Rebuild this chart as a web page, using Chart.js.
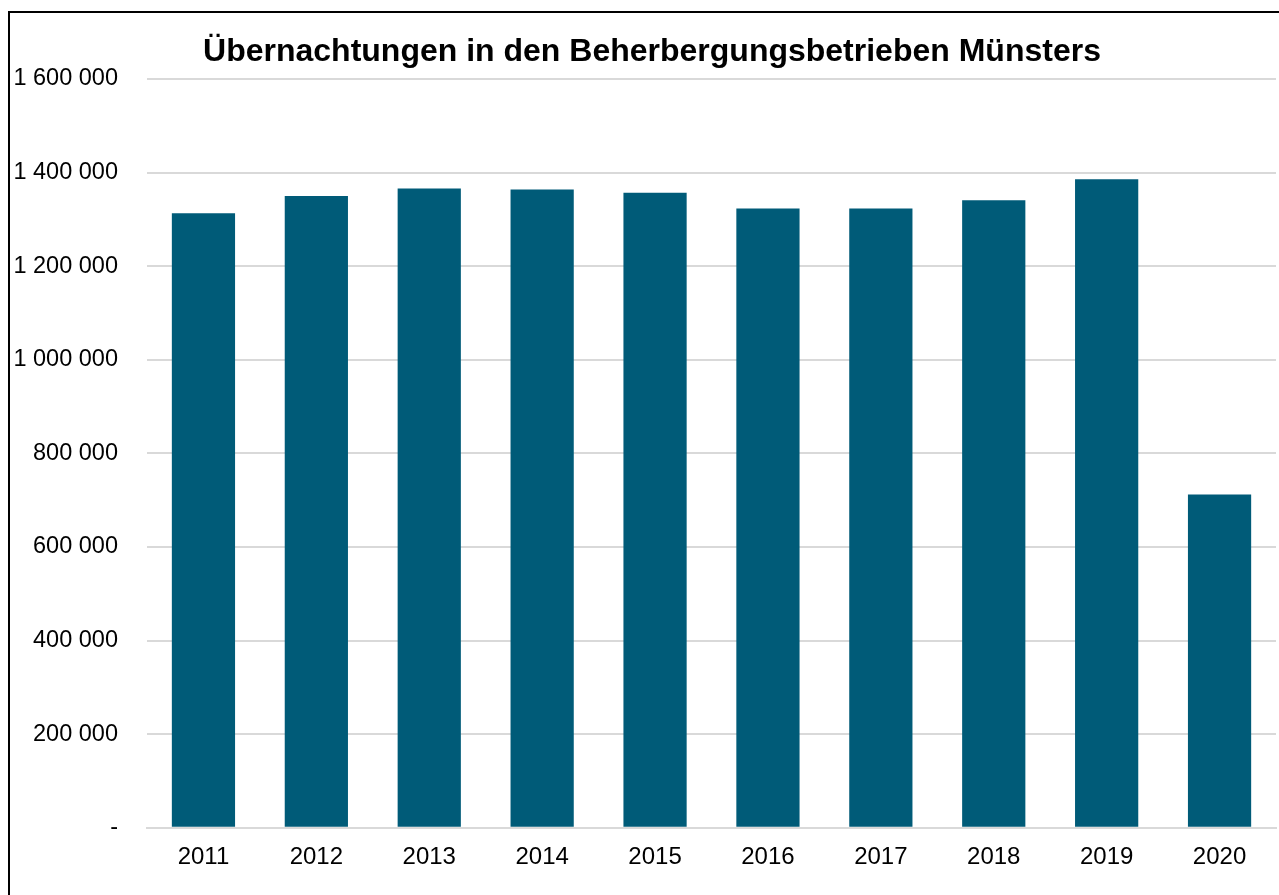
<!DOCTYPE html>
<html>
<head>
<meta charset="utf-8">
<script src="https://cdn.jsdelivr.net/npm/chart.js@4/dist/chart.umd.min.js"></script>
<style>
    html, body { margin: 0; padding: 0; background: #fff; overflow: hidden; }
    #rahmen { position: absolute; left: 8px; top: 11px; width: 2000px; height: 2000px;
              border-left: 2px solid #000; border-top: 2px solid #000; }
    #wrap { position: absolute; left: 0; top: 0; width: 1279px; height: 895px; }
</style>
</head>
<body>
<div id="rahmen"></div>
<div id="wrap"><canvas id="barChartUebernachtungen"></canvas></div>
<script>
var jahre = ["2011","2012","2013","2014","2015","2016","2017","2018","2019","2020"];
var uebernachtungen = [1313000, 1350000, 1366000, 1364000, 1357000, 1323000, 1323000, 1341000, 1386000, 712000];
var yTicks = [0, 200000, 400000, 600000, 800000, 1000000, 1200000, 1400000, 1600000];
var titel = 'Übernachtungen in den Beherbergungsbetrieben Münsters';

function formatZahl(v){
    if(v === 0) return '-';
    return String(v).replace(/\B(?=(\d{3})+(?!\d))/g, ' ');
}

var brandPrimary = 'rgb(0, 91, 120)';
var gitter = '#d9d9d9';
var schrift = 'Liberation Sans, Arial, sans-serif';

// Titel etwas rechts von der Mitte, wie im Original
var titelPlugin = {
    id: 'titel',
    afterDraw: function(chart){
        var c = chart.ctx;
        c.save();
        c.font = 'bold 32px ' + schrift;
        c.fillStyle = '#000';
        c.textAlign = 'center';
        c.textBaseline = 'alphabetic';
        c.fillText(titel, 652, 61);
        c.restore();
    }
};

var ctx = document.getElementById('barChartUebernachtungen');
var barGraph = new Chart(ctx, {
    type: 'bar',
    data: {
        labels: jahre,
        datasets: [
            {
                label: "Übernachtungen",
                backgroundColor: brandPrimary,
                borderWidth: 0,
                categoryPercentage: 1,
                barPercentage: 0.56,
                data: uebernachtungen
            }
        ]
    },
    plugins: [titelPlugin],
    options: {
        responsive: true,
        maintainAspectRatio: false,
        animation: false,
        layout: { padding: { left: 8, right: 3, top: 79, bottom: 8.5 } },
        plugins: {
            legend: { display: false },
            tooltip: { enabled: false },
            title: { display: false }
        },
        scales: {
            x: {
                grid: { display: false, drawTicks: false },
                border: { display: true, color: gitter, width: 2 },
                ticks: {
                    color: '#000',
                    padding: 15,
                    maxRotation: 0,
                    font: { family: schrift, size: 24 }
                }
            },
            y: {
                min: 0,
                max: 1600000,
                afterBuildTicks: function(scale){
                    scale.ticks = yTicks.map(function(v){ return { value: v }; });
                },
                afterFit: function(scale){ scale.width = 139; },
                grid: { color: gitter, lineWidth: 2, drawTicks: false },
                border: { display: false },
                ticks: {
                    color: '#000',
                    padding: 29,
                    font: { family: schrift, size: 23.5 },
                    callback: function(v){ return formatZahl(v); }
                }
            }
        }
    }
});
</script>
</body>
</html>
